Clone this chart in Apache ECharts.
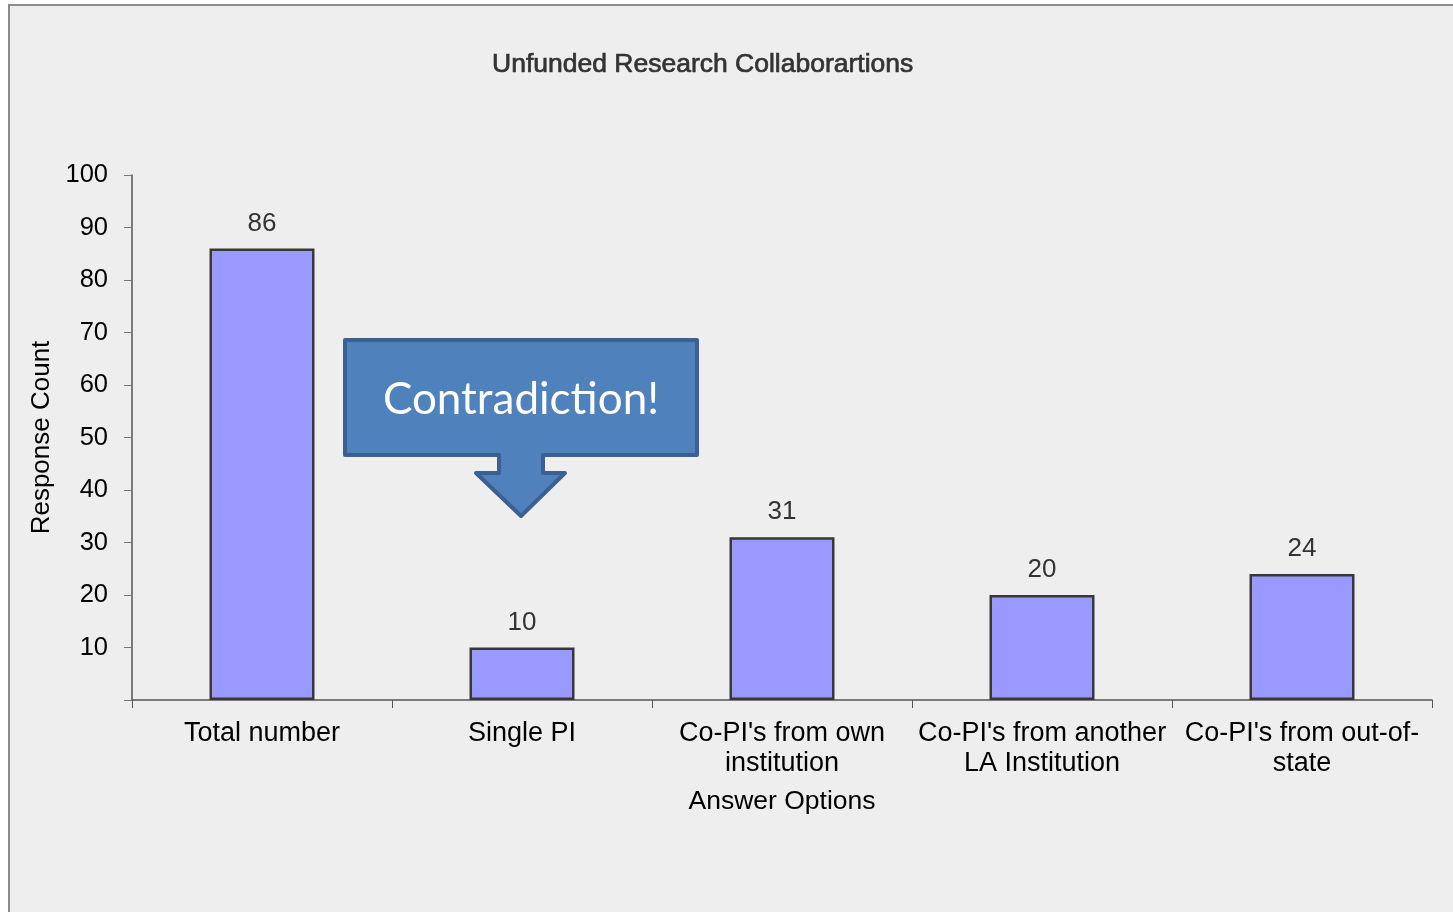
<!DOCTYPE html>
<html>
<head>
<meta charset="utf-8">
<script src="https://cdn.jsdelivr.net/npm/echarts@6/dist/echarts.min.js"></script>
<style>
  html, body { margin: 0; padding: 0; background: #ffffff; overflow: hidden; }
  #frame { position: absolute; left: 8px; top: 4px; width: 1470px; height: 930px;
           background: #eeeeee; border-top: 2px solid #8c8c8c; border-left: 2px solid #8c8c8c; }
  #chart { position: absolute; left: 0; top: 0; width: 1453px; height: 912px; }
</style>
</head>
<body>
<div id="frame"></div>
<div id="chart"></div>
<script>
// chart data
const categories = [
  'Total number',
  'Single PI',
  "Co-PI's from own\ninstitution",
  "Co-PI's from another\nLA Institution",
  "Co-PI's from out-of-\nstate"
];
const counts = [86, 10, 31, 20, 24];
const yTicks = [10, 20, 30, 40, 50, 60, 70, 80, 90, 100];

var myChart = echarts.init(document.getElementById('chart'));
var font = '"Liberation Sans", Arial, sans-serif';

var option = {
  backgroundColor: 'transparent',
  animation: false,
  title: {
    text: 'Unfunded Research Collaborartions',
    left: 487,
    top: 46,
    textStyle: {
      fontFamily: font, fontSize: 26.5, fontWeight: 'normal', color: '#333333',
      textBorderColor: '#333333', textBorderWidth: 0.7
    }
  },
  grid: { left: 132, right: 21, top: 175, bottom: 212 },
  xAxis: {
    type: 'category',
    data: categories,
    name: 'Answer Options',
    nameLocation: 'middle',
    nameGap: 88,
    nameTextStyle: { fontFamily: font, fontSize: 26.5, color: '#000000' },
    axisLine: { lineStyle: { color: '#555555', width: 1.5 } },
    axisTick: { show: true, length: 8, lineStyle: { color: '#555555' } },
    axisLabel: {
      interval: 0, margin: 19, fontFamily: font, fontSize: 27, lineHeight: 30, color: '#000000'
    }
  },
  yAxis: {
    type: 'value',
    min: 0,
    max: 100,
    interval: 10,
    name: 'Response Count',
    nameLocation: 'middle',
    nameGap: 76,
    nameTextStyle: { fontFamily: font, fontSize: 26, color: '#000000' },
    axisLine: { show: true, lineStyle: { color: '#555555', width: 1.5 } },
    axisTick: { show: true, length: 8, lineStyle: { color: '#777777' } },
    splitLine: { show: false },
    axisLabel: {
      margin: 24, fontFamily: font, fontSize: 25.5, color: '#000000',
      formatter: function (v) { return yTicks.indexOf(v) >= 0 ? String(v) : ''; }
    }
  },
  series: [{
    type: 'bar',
    data: counts,
    barWidth: 105,
    itemStyle: { color: '#9999ff', borderColor: '#383838', borderWidth: 2.5 },
    label: {
      show: true, position: 'top', distance: 12,
      fontFamily: font, fontSize: 26, color: '#333333'
    }
  }],
  graphic: [{
    type: 'polygon',
    z: 100,
    shape: {
      points: [[345, 340], [697, 340], [697, 455], [543, 455], [543, 473], [565, 473],
               [521, 516], [476, 473], [499, 473], [499, 455], [345, 455]]
    },
    style: { fill: '#4f81bd', stroke: '#3b6192', lineWidth: 4, lineJoin: 'round' }
  }, {
    type: 'text',
    z: 101,
    x: 521,
    y: 400,
    style: {
      text: 'Contradiction!', fill: '#ffffff', fontSize: 44,
      fontFamily: 'Lato, "Open Sans", sans-serif',
      align: 'center', verticalAlign: 'middle'
    }
  }]
};

myChart.setOption(option);
</script>
</body>
</html>
